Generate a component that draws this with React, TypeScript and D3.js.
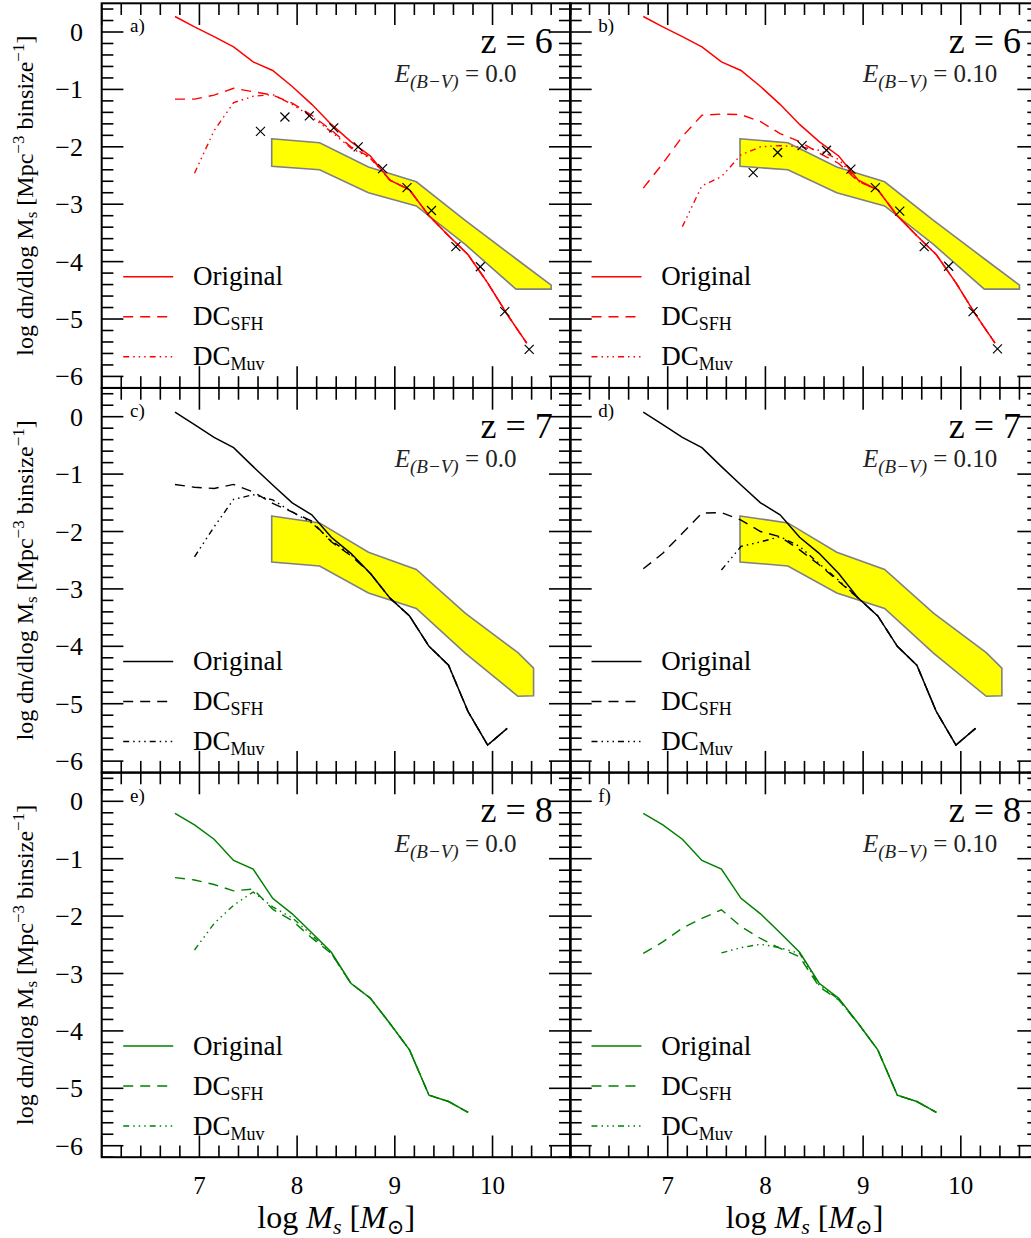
import React from 'react';
import * as d3 from 'd3';

// ---------- DATA ----------
const massBins = [6.75, 6.95, 7.15, 7.35, 7.55, 7.75, 7.95, 8.15, 8.35, 8.55, 8.75, 8.95, 9.15, 9.35, 9.55, 9.75, 9.95, 10.15, 10.35];

// z = 6 (red)
const z6Original = [0.27, 0.09, -0.08, -0.26, -0.52, -0.67, -0.95, -1.26, -1.61, -1.91, -2.16, -2.58, -2.75, -3.2, -3.55, -3.88, -4.37, -4.92, -5.42];
const z6SfhE0 = [-1.17, -1.17, -1.1, -0.98, -1.04, -1.1, -1.24, -1.45, -1.71, -2.0, -2.18, -2.58, -2.75, -3.2, -3.55, -3.88, -4.37, -4.92, -5.42];
const z6MuvE0 = [null, -2.46, -1.72, -1.23, -1.12, -1.09, -1.26, -1.48, -1.74, -2.02, -2.2, -2.58, -2.75, -3.2, -3.55, -3.88, -4.37, -4.92, -5.42];
const z6SfhE1 = [-2.72, -2.29, -1.82, -1.45, -1.43, -1.44, -1.56, -1.77, -1.91, -2.11, -2.29, -2.6, -2.75, -3.2, -3.55, -3.88, -4.37, -4.92, -5.42];
const z6MuvE1 = [null, null, -3.39, -2.68, -2.52, -2.14, -2.0, -1.98, -2.0, -2.06, -2.22, -2.6, -2.75, -3.2, -3.55, -3.88, -4.37, -4.92, -5.42];

// z = 7 (black)
const z7Original = [0.08, -0.14, -0.36, -0.54, -0.87, -1.19, -1.5, -1.71, -2.1, -2.38, -2.73, -3.16, -3.47, -4.0, -4.33, -5.14, -5.72, -5.43];
const z7SfhE0 = [-1.18, -1.23, -1.25, -1.18, -1.31, -1.51, -1.66, -1.82, -2.18, -2.42, -2.73, -3.16, -3.47, -4.0, -4.33, -5.14, -5.72, -5.43];
const z7MuvE0 = [null, -2.44, -1.92, -1.44, -1.36, -1.45, -1.66, -1.85, -2.16, -2.4, -2.73, -3.16, -3.47, -4.0, -4.33, -5.14, -5.72, -5.43];
const z7SfhE1 = [-2.65, -2.38, -2.03, -1.68, -1.67, -1.8, -2.0, -2.09, -2.32, -2.58, -2.87, -3.16, -3.47, -4.0, -4.33, -5.14, -5.72, -5.43];
const z7MuvE1 = [null, null, null, null, -2.67, -2.26, -2.18, -2.09, -2.26, -2.56, -2.85, -3.16, -3.47, -4.0, -4.33, -5.14, -5.72, -5.43];

// z = 8 (green)
const z8Original = [-0.21, -0.41, -0.66, -1.03, -1.18, -1.69, -1.96, -2.29, -2.63, -3.17, -3.43, -3.87, -4.33, -5.12, -5.23, -5.42];
const z8SfhE0 = [-1.33, -1.37, -1.45, -1.56, -1.53, -1.88, -2.08, -2.38, -2.65, -3.17, -3.43, -3.87, -4.33, -5.12, -5.23, -5.42];
const z8MuvE0 = [null, -2.59, -2.13, -1.81, -1.58, -1.84, -2.03, -2.33, -2.65, -3.17, -3.43, -3.87, -4.33, -5.12, -5.23, -5.42];
const z8SfhE1 = [-2.65, -2.45, -2.21, -2.04, -1.89, -2.18, -2.39, -2.56, -2.71, -3.23, -3.46, -3.87, -4.33, -5.12, -5.23, -5.42];
const z8MuvE1 = [null, null, null, null, -2.64, -2.55, -2.49, -2.55, -2.65, -3.2, -3.45, -3.87, -4.33, -5.12, -5.23, -5.42];

// observational points (crosses), z = 6
const obsZ6E0X = [7.625, 7.875, 8.125, 8.375, 8.625, 8.875, 9.125, 9.375, 9.625, 9.875, 10.125, 10.375];
const obsZ6E0Y = [-1.73, -1.48, -1.46, -1.67, -2.0, -2.38, -2.71, -3.11, -3.74, -4.09, -4.87, -5.53];
const obsZ6E1X = [7.875, 8.125, 8.375, 8.625, 8.875, 9.125, 9.375, 9.625, 9.875, 10.125, 10.375];
const obsZ6E1Y = [-2.45, -2.1, -1.98, -2.06, -2.39, -2.71, -3.12, -3.74, -4.08, -4.87, -5.52];

// observational bands (yellow)
const bandZ6X = [7.74, 8.23, 8.73, 9.22, 9.72, 10.24, 10.6];
const bandZ6Upper = [-1.86, -1.93, -2.35, -2.61, -3.28, -3.95, -4.41];
const bandZ6Lower = [-2.34, -2.4, -2.8, -3.03, -3.7, -4.48, -4.48];
const bandZ7X = [7.74, 8.23, 8.73, 9.22, 9.72, 10.26, 10.42];
const bandZ7Upper = [-1.73, -1.85, -2.36, -2.66, -3.42, -4.11, -4.38];
const bandZ7Lower = [-2.53, -2.6, -3.07, -3.34, -4.12, -4.87, -4.86];

const panelLabels = ['a)', 'b)', 'c)', 'd)', 'e)', 'f)'];
const redshifts = [6, 6, 7, 7, 8, 8];
const ebvLabels = ['0.0', '0.10', '0.0', '0.10', '0.0', '0.10'];
const xTickLabels = [7, 8, 9, 10];
const yTickLabels = [0, -1, -2, -3, -4, -5, -6];
const legendNames = ['Original', 'DC', 'DC'];
const legendSubs = ['', 'SFH', 'Muv'];

// ---------- LAYOUT ----------
const W = 1031;
const H = 1238;
const colX = [101.7, 570];
const rowY = [3.3, 388, 772.6];
const PW = 469;
const PH = 384.6;
const FONT = "'Liberation Serif', 'DejaVu Serif', serif";
const DASH = '10,7';
const DASHDOT = '6,4,1.5,4,1.5,4,1.5,4';

type Band = { x: number[]; up: number[]; lo: number[] } | null;
type Obs = { x: number[]; y: number[] } | null;

const panels = [
  { color: '#ff0000', orig: z6Original, sfh: z6SfhE0, muv: z6MuvE0, band: { x: bandZ6X, up: bandZ6Upper, lo: bandZ6Lower }, obs: { x: obsZ6E0X, y: obsZ6E0Y } },
  { color: '#ff0000', orig: z6Original, sfh: z6SfhE1, muv: z6MuvE1, band: { x: bandZ6X, up: bandZ6Upper, lo: bandZ6Lower }, obs: { x: obsZ6E1X, y: obsZ6E1Y } },
  { color: '#000000', orig: z7Original, sfh: z7SfhE0, muv: z7MuvE0, band: { x: bandZ7X, up: bandZ7Upper, lo: bandZ7Lower }, obs: null },
  { color: '#000000', orig: z7Original, sfh: z7SfhE1, muv: z7MuvE1, band: { x: bandZ7X, up: bandZ7Upper, lo: bandZ7Lower }, obs: null },
  { color: '#008000', orig: z8Original, sfh: z8SfhE0, muv: z8MuvE0, band: null, obs: null },
  { color: '#008000', orig: z8Original, sfh: z8SfhE1, muv: z8MuvE1, band: null, obs: null },
];

function Panel({ idx }: { idx: number }) {
  const p = panels[idx];
  const col = idx % 2;
  const row = Math.floor(idx / 2);
  const x0 = colX[col];
  const y0 = rowY[row];
  const xs = d3.scaleLinear().domain([6.0, 10.8]).range([x0, x0 + PW]);
  const ys = d3.scaleLinear().domain([-6.2, 0.5]).range([y0 + PH, y0]);

  const line = d3
    .line<number | null>()
    .defined((d) => d != null)
    .x((_, i) => xs(massBins[i]))
    .y((d) => ys(d as number));

  const band: Band = p.band;
  let bandPath = '';
  if (band) {
    const area = d3
      .area<number>()
      .x((d) => xs(d))
      .y0((_, i) => ys(band.lo[i]))
      .y1((_, i) => ys(band.up[i]));
    bandPath = area(band.x) + '';
  }
  const obs: Obs = p.obs;

  // ticks
  const xMinor = d3.range(0, 25).map((k) => 6 + k * 0.2);
  const yMinor = d3.range(0, 34).map((k) => -6.2 + k * 0.2);
  const isInt = (v: number) => Math.abs(v - Math.round(v)) < 1e-6;
  const tickEls: React.ReactNode[] = [];
  xMinor.forEach((v, i) => {
    const L = isInt(v) ? 21.7 : 11.7;
    const px = xs(v);
    tickEls.push(<line key={'xb' + i} x1={px} x2={px} y1={y0 + PH} y2={y0 + PH - L} />);
    tickEls.push(<line key={'xt' + i} x1={px} x2={px} y1={y0} y2={y0 + L} />);
  });
  yMinor.forEach((v, i) => {
    const L = isInt(v) ? 21.7 : 11.7;
    const py = ys(v);
    tickEls.push(<line key={'yl' + i} x1={x0} x2={x0 + L} y1={py} y2={py} />);
    tickEls.push(<line key={'yr' + i} x1={x0 + PW} x2={x0 + PW - L} y1={py} y2={py} />);
  });

  const legendY = [273.4, 313.4, 353.4];
  const legendDash = [undefined, DASH, DASHDOT];

  return (
    <g>
      {band && <path d={bandPath} fill="#ffff00" stroke="#808080" strokeWidth={1.6} />}
      <path d={line(p.muv as any) || ''} fill="none" stroke={p.color} strokeWidth={1.4} strokeDasharray={DASHDOT} />
      <path d={line(p.sfh as any) || ''} fill="none" stroke={p.color} strokeWidth={1.4} strokeDasharray={DASH} />
      <path d={line(p.orig as any) || ''} fill="none" stroke={p.color} strokeWidth={1.5} />
      {obs &&
        obs.x.map((xv, i) => {
          const cx = xs(xv);
          const cy = ys(obs.y[i]);
          const s = 4.5;
          return (
            <g key={'o' + i} stroke="#000" strokeWidth={1.2}>
              <line x1={cx - s} x2={cx + s} y1={cy - s} y2={cy + s} />
              <line x1={cx - s} x2={cx + s} y1={cy + s} y2={cy - s} />
            </g>
          );
        })}
      <g stroke="#000" strokeWidth={1.6}>{tickEls}</g>
      <rect x={x0} y={y0} width={PW} height={PH} fill="none" stroke="#000" strokeWidth={2} />
      <text x={x0 + 28.3} y={y0 + 29} fontSize={19} fontFamily={FONT}>
        {panelLabels[idx]}
      </text>
      <text x={x0 + 451} y={y0 + 49.5} fontSize={36} fontFamily={FONT} textAnchor="end">
        z = {redshifts[idx]}
      </text>
      <text x={x0 + 293} y={y0 + 79} fontSize={25} fontFamily={FONT} fill="#222">
        <tspan fontStyle="italic">E</tspan>
        <tspan fontStyle="italic" fontSize={19} dy={6}>
          (B−V)
        </tspan>
        <tspan dy={-6}> = {ebvLabels[idx]}</tspan>
      </text>
      {legendNames.map((nm, i) => (
        <g key={'lg' + i}>
          <line
            x1={x0 + 21.5}
            x2={x0 + 71.5}
            y1={y0 + legendY[i]}
            y2={y0 + legendY[i]}
            stroke={p.color}
            strokeWidth={1.5}
            strokeDasharray={legendDash[i]}
          />
          <text x={x0 + 91.3} y={y0 + legendY[i] + 8.5} fontSize={27} fontFamily={FONT}>
            {nm}
            {legendSubs[i] && (
              <tspan fontSize={18} dy={5}>
                {legendSubs[i]}
              </tspan>
            )}
          </text>
        </g>
      ))}
      {col === 0 &&
        yTickLabels.map((v) => (
          <text key={'yt' + v} x={83} y={ys(v) + 9} fontSize={26} fontFamily={FONT} textAnchor="end">
            {v < 0 ? '−' + Math.abs(v) : String(v)}
          </text>
        ))}
      {row === 2 &&
        xTickLabels.map((v) => (
          <text key={'xt' + v} x={xs(v)} y={1193.5} fontSize={25} fontFamily={FONT} textAnchor="middle">
            {v}
          </text>
        ))}
      {row === 2 && (
        <text x={x0 + PW / 2} y={1228} fontSize={32} fontFamily={FONT} textAnchor="middle">
          log <tspan fontStyle="italic">M</tspan>
          <tspan fontStyle="italic" fontSize={22} dy={6}>
            s
          </tspan>
          <tspan dy={-6}> [</tspan>
          <tspan fontStyle="italic">M</tspan>
          <tspan fontSize={21} dy={6}>
            ⊙
          </tspan>
          <tspan dy={-6}>]</tspan>
        </text>
      )}
      {col === 0 && (
        <text
          transform={`translate(33,${y0 + PH / 2}) rotate(-90)`}
          fontSize={24}
          fontFamily={FONT}
          textAnchor="middle"
        >
          log dn/dlog M
          <tspan fontSize={17} dy={4}>
            s
          </tspan>
          <tspan dy={-4}> [Mpc</tspan>
          <tspan fontSize={17} dy={-9}>
            −3
          </tspan>
          <tspan dy={9}> binsize</tspan>
          <tspan fontSize={17} dy={-9}>
            −1
          </tspan>
          <tspan dy={9}>]</tspan>
        </text>
      )}
    </g>
  );
}

export default function App() {
  return (
    <svg
      width={W}
      height={H}
      viewBox={`0 0 ${W} ${H}`}
      style={{ position: 'absolute', left: 0, top: 0, background: '#fff' }}
    >
      <rect x={0} y={0} width={W} height={H} fill="#fff" />
      {panels.map((_, i) => (
        <Panel key={i} idx={i} />
      ))}
    </svg>
  );
}
